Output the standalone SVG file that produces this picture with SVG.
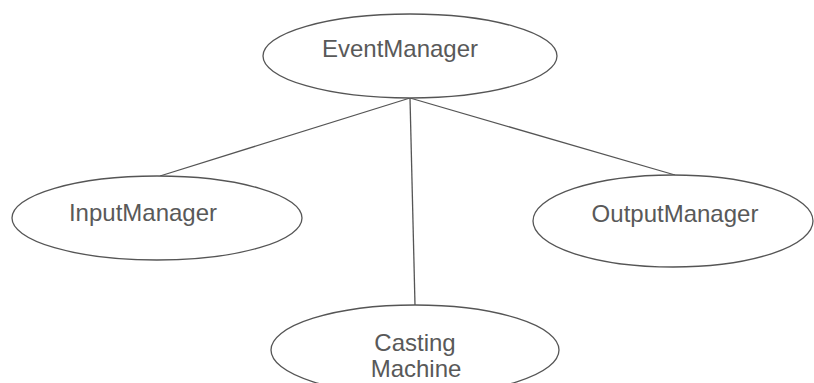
<svg xmlns="http://www.w3.org/2000/svg" width="814" height="383" viewBox="0 0 814 383">
  <style>
    .node ellipse { fill: #ffffff; stroke: #555555; stroke-width: 1.3; }
    .node text { font-family: "Liberation Sans", Arial, sans-serif; font-size: 24px; fill: #595959; text-anchor: middle; }
    .edges line { stroke: #555555; stroke-width: 1.3; }
  </style>
  <rect width="814" height="383" fill="#ffffff"/>
  <g id="edges" class="edges">
    <line x1="410" y1="98" x2="160" y2="176"/>
    <line x1="410" y1="98" x2="675" y2="175"/>
    <line x1="410" y1="98" x2="415" y2="305"/>
  </g>
  <g id="event-manager" class="node">
    <ellipse cx="410" cy="56" rx="147" ry="42"/>
    <text x="400" y="57">EventManager</text>
  </g>
  <g id="input-manager" class="node">
    <ellipse cx="157" cy="218" rx="145" ry="42"/>
    <text x="143" y="221">InputManager</text>
  </g>
  <g id="output-manager" class="node">
    <ellipse cx="673" cy="221" rx="140" ry="46"/>
    <text x="675" y="222">OutputManager</text>
  </g>
  <g id="casting-machine" class="node">
    <ellipse cx="415" cy="350" rx="144" ry="45"/>
    <text x="415" y="351">Casting</text>
    <text x="416" y="377">Machine</text>
  </g>
</svg>
